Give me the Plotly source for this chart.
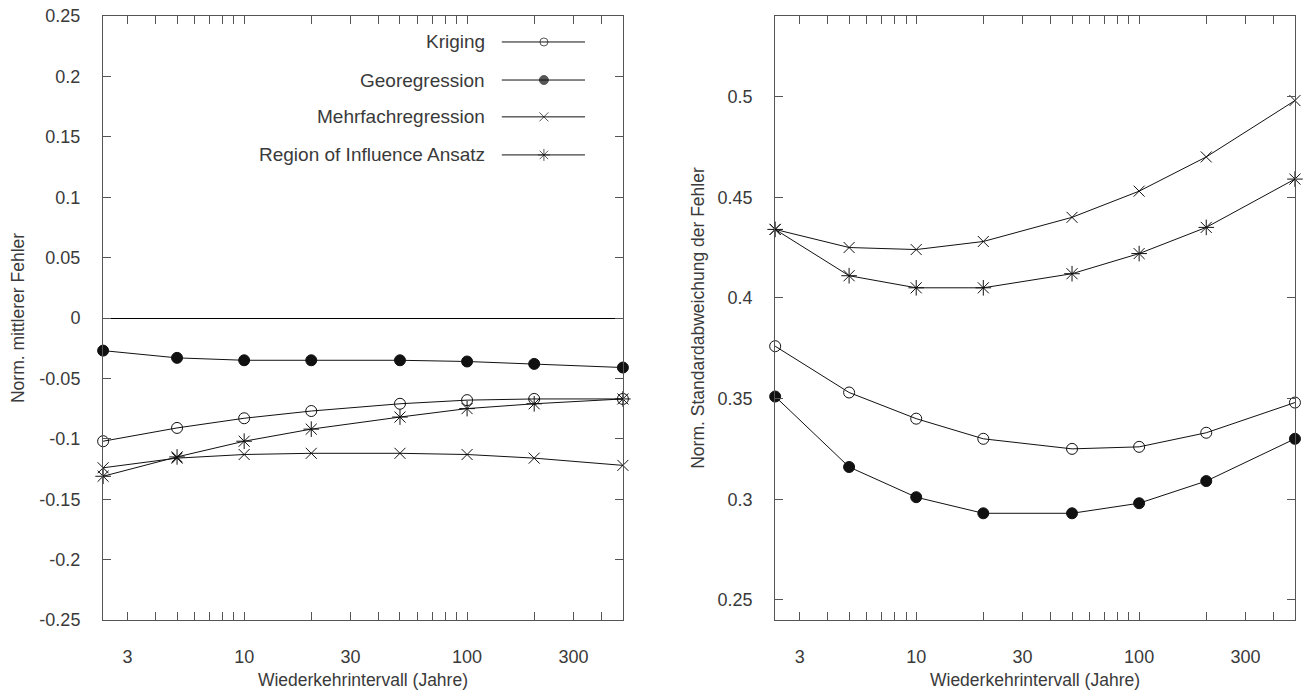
import plotly.graph_objects as go

# ---- data ----
return_periods = [2.33, 5, 10, 20, 50, 100, 200, 500]

series_names = ["Kriging", "Georegression", "Mehrfachregression", "Region of Influence Ansatz"]

kriging_mean = [-0.102, -0.091, -0.083, -0.077, -0.071, -0.068, -0.067, -0.067]
geo_mean = [-0.027, -0.033, -0.035, -0.035, -0.035, -0.036, -0.038, -0.041]
mehr_mean = [-0.124, -0.116, -0.113, -0.112, -0.112, -0.113, -0.116, -0.122]
roi_mean = [-0.131, -0.115, -0.102, -0.092, -0.082, -0.075, -0.071, -0.067]

kriging_std = [0.376, 0.353, 0.340, 0.330, 0.325, 0.326, 0.333, 0.348]
geo_std = [0.351, 0.316, 0.301, 0.293, 0.293, 0.298, 0.309, 0.330]
mehr_std = [0.434, 0.425, 0.424, 0.428, 0.440, 0.453, 0.470, 0.498]
roi_std = [0.434, 0.411, 0.405, 0.405, 0.412, 0.422, 0.435, 0.459]

x_tickvals = [3, 4, 5, 6, 7, 8, 9, 10, 20, 30, 40, 50, 60, 70, 80, 90, 100, 200, 300, 400]
x_ticktext = ["3", "", "", "", "", "", "", "10", "", "30", "", "", "", "", "", "", "100", "", "300", ""]

left_yvals = [-0.25, -0.2, -0.15, -0.1, -0.05, 0, 0.05, 0.1, 0.15, 0.2, 0.25]
left_ytext = ["-0.25", "-0.2", "-0.15", "-0.1", "-0.05", "0", "0.05", "0.1", "0.15", "0.2", "0.25"]
right_yvals = [0.25, 0.3, 0.35, 0.4, 0.45, 0.5]
right_ytext = ["0.25", "0.3", "0.35", "0.4", "0.45", "0.5"]

x_title = "Wiederkehrintervall (Jahre)"
left_ytitle = "Norm. mittlerer Fehler"
right_ytitle = "Norm. Standardabweichung der Fehler"

# ---- styles ----
FONT = "Liberation Sans, Arial, sans-serif"
TXT = "#3a3a3a"
AX = "#555555"
LINE = "#111111"
styles = [
    dict(symbol="circle-open", size=11, lw=1),
    dict(symbol="circle", size=11, lw=1),
    dict(symbol="x-thin-open", size=11, lw=1),
    dict(symbol="asterisk-open", size=13, lw=1),
]

fig = go.Figure()

left_series = [kriging_mean, geo_mean, mehr_mean, roi_mean]
right_series = [kriging_std, geo_std, mehr_std, roi_std]

for name, vals, st in zip(series_names, left_series, styles):
    fig.add_trace(go.Scatter(
        x=return_periods, y=vals, name=name, mode="lines+markers",
        line=dict(color=LINE, width=1),
        marker=dict(symbol=st["symbol"], size=st["size"], color=LINE,
                    line=dict(color=LINE, width=st["lw"])),
        xaxis="x", yaxis="y", cliponaxis=False, showlegend=False))

for name, vals, st in zip(series_names, right_series, styles):
    fig.add_trace(go.Scatter(
        x=return_periods, y=vals, name=name, mode="lines+markers",
        line=dict(color=LINE, width=1),
        marker=dict(symbol=st["symbol"], size=st["size"], color=LINE,
                    line=dict(color=LINE, width=st["lw"])),
        xaxis="x2", yaxis="y2", cliponaxis=False, showlegend=False))

# ---- gnuplot-style legend (text left, key right) on an overlay axis ----
legend_rows = [0.957, 0.894, 0.833, 0.770]
key_x0, key_xm, key_x1, text_x = 0.767, 0.848, 0.927, 0.738
legend_sizes = [8, 9, 9, 10]
for name, st, ry, ls in zip(series_names, styles, legend_rows, legend_sizes):
    fig.add_trace(go.Scatter(
        x=[key_x0, key_xm, key_x1], y=[ry, ry, ry], mode="lines+markers",
        line=dict(color=LINE, width=1),
        marker=dict(symbol=st["symbol"], size=[0, ls, 0], color=LINE,
                    line=dict(color=LINE, width=1)),
        xaxis="x3", yaxis="y3", showlegend=False, hoverinfo="skip"))
    fig.add_annotation(x=text_x, y=ry, xref="x3", yref="y3", text=name,
                       showarrow=False, xanchor="right", yanchor="middle",
                       font=dict(family=FONT, size=19, color=TXT))

xcommon = dict(type="log", range=[0.3668, 2.6992], tickmode="array",
               tickvals=x_tickvals, ticktext=x_ticktext, ticks="inside",
               ticklen=8, tickcolor=AX, showline=True, linecolor=AX,
               linewidth=1, mirror="ticks", showgrid=False, zeroline=False,
               ticklabelstandoff=20, automargin=False,
               tickfont=dict(family=FONT, size=18, color=TXT),
               title=dict(text=x_title, standoff=8,
                          font=dict(family=FONT, size=17.5, color=TXT)))

ycommon = dict(tickmode="array", ticks="inside", ticklen=8, tickcolor=AX,
               showline=True, linecolor=AX, linewidth=1, mirror="ticks",
               showgrid=False, ticklabelstandoff=18, automargin=False,
               tickfont=dict(family=FONT, size=18, color=TXT))

fig.update_layout(
    width=1306, height=693,
    margin=dict(l=103, r=11, t=16, b=73),
    paper_bgcolor="white", plot_bgcolor="rgba(0,0,0,0)",
    font=dict(family=FONT, size=17, color=TXT),
    showlegend=False,
    xaxis=dict(domain=[0, 0.4362], anchor="y", **xcommon),
    yaxis=dict(domain=[0, 1], anchor="x", range=[-0.25, 0.25],
               tickvals=left_yvals, ticktext=left_ytext,
               zeroline=True, zerolinecolor="#000000", zerolinewidth=1,
               title=dict(text=left_ytitle, standoff=10,
                          font=dict(family=FONT, size=17.5, color=TXT)),
               **ycommon),
    xaxis2=dict(domain=[0.5638, 1], anchor="y2", **xcommon),
    yaxis2=dict(domain=[0, 1], anchor="x2", range=[0.24, 0.54],
                tickvals=right_yvals, ticktext=right_ytext, zeroline=False,
                title=dict(text=right_ytitle, standoff=8,
                           font=dict(family=FONT, size=17.5, color=TXT)),
                **ycommon),
    xaxis3=dict(domain=[0, 0.4362], anchor="y3", range=[0, 1], visible=False),
    yaxis3=dict(domain=[0, 1], anchor="x3", range=[0, 1], visible=False),
)

fig.write_html("out.html", config={"displayModeBar": False},
               post_script="document.body.style.margin='0px';document.body.style.overflow='hidden';")
